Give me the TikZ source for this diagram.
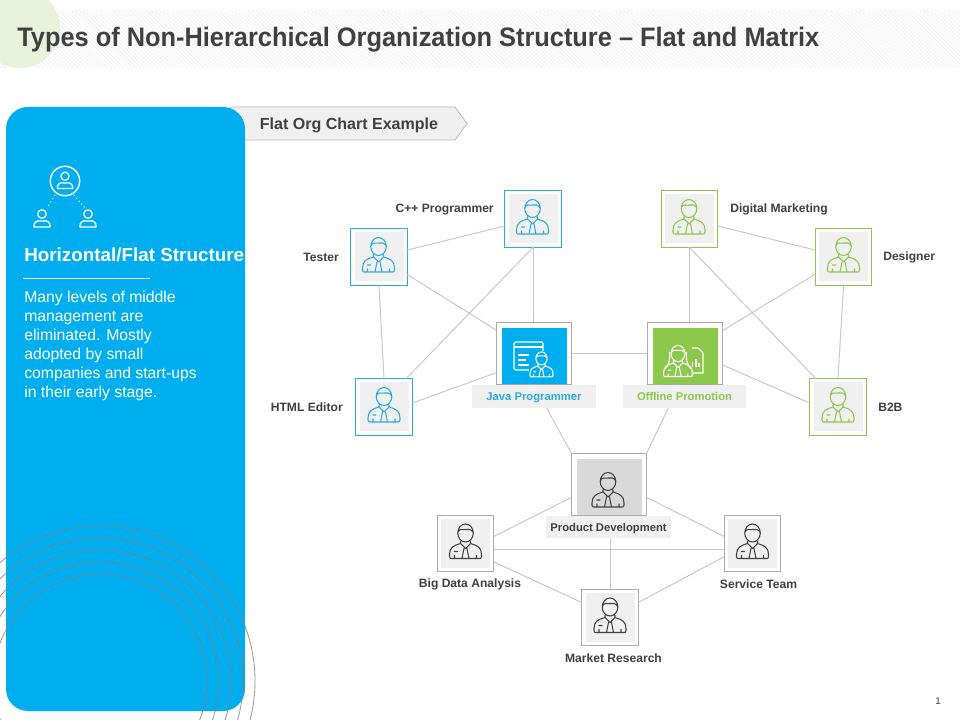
\documentclass[tikz,border=0pt]{standalone}
\usepackage{fontspec}
\setmainfont{Liberation Sans}
\newfontfamily\titlefont[FakeStretch=0.95]{Liberation Sans}
\usetikzlibrary{patterns}
\definecolor{panelblue}{HTML}{00AEEF}
\definecolor{iconblue}{HTML}{29ABE2}
\definecolor{leafgreen}{HTML}{8CC84B}
\definecolor{softgreen}{HTML}{E9F3DC}
\definecolor{boxgray}{HTML}{ABABAB}
\definecolor{linegray}{HTML}{C8C8C8}
\definecolor{innergray}{HTML}{F0F0F0}
\definecolor{darkgray}{HTML}{D9D9D9}
\definecolor{inkgray}{HTML}{404040}
\tikzset{
  smallbox/.style={draw=#1, line width=0.8pt, fill=white, minimum size=1.42cm, inner sep=0pt, outer sep=0pt,
    path picture={\fill[innergray] ([shift={(-24.5,-24.5)}]path picture bounding box.center) rectangle ++(49,49);}},
  bigbox/.style={draw=boxgray, line width=0.8pt, fill=white, minimum width=1.88cm, minimum height=1.56cm, inner sep=0pt, outer sep=0pt,
    path picture={\fill[#1] ([shift={(-32.5,-25.5)}]path picture bounding box.center) rectangle ++(65,57);}},
  tag/.style={fill=innergray, text height=5.8pt, text depth=0pt, inner sep=3pt, font=\bfseries\fontsize{8}{10}\selectfont},
  namelabel/.style={text=inkgray, inner sep=0pt, font=\bfseries\fontsize{8.6}{10}\selectfont},
  link/.style={draw=linegray, line width=0.7pt},
  pics/person/.style={code={
    \draw[#1, line width=0.75pt, line join=round, line cap=round]
      (0,-10.5) ellipse (7.8 and 9)
      (-7.8,-11) .. controls (-6,-16) and (-2,-13) .. (0,-14) .. controls (3,-15) and (6,-14) .. (7.8,-11)
      (-5,-2) -- (-5,0) .. controls (-12,2) and (-16,4) .. (-16,11) -- (-16,13) .. controls (-16,15) and (-15,15) .. (-14,15)
      -- (14,15) .. controls (15,15) and (16,15) .. (16,13) -- (16,11) .. controls (16,4) and (12,2) .. (5,0) -- (5,-2)
      (-5,0) -- (0,5) -- (5,0)
      (-1.5,5) -- (-3.5,15) (1.5,5) -- (3.5,15)
      (-11,8) -- (-8,8) (-11,15) -- (-11,12) (11,15) -- (11,12);
  }},
  pics/miniperson/.style={code={
    \draw[white, line width=0.9pt, line join=round]
      (0,-5) circle (4.3)
      (-8,8) -- (8,8) .. controls (9,3) and (4,1) .. (1.5,2) .. controls (0,2.5) and (0,2.5) .. (-1.5,2) .. controls (-4,1) and (-9,3) .. (-8,8) -- cycle;
  }}
}
\begin{document}
\begin{tikzpicture}[x=0.025cm, y=-0.025cm]
\useasboundingbox (0,0) rectangle (960,720);
\clip (0,0) rectangle (960,720);

\fill[white] (0,0) rectangle (960,720);
\fill[pattern={north west lines}, pattern color=black!7] (0,11) rectangle (960,68);
\fill[softgreen] (20,28) circle (40);
\node[anchor=west, text=inkgray, inner sep=0pt, font=\titlefont\bfseries\fontsize{19}{23}\selectfont] (title) at (17,39.5) {Types of Non-Hierarchical Organization Structure – Flat and Matrix};

\draw[boxgray!80, fill=innergray, line width=0.6pt] (230,107) -- (455,107) -- (467,123.5) -- (455,140) -- (230,140) -- cycle;
\node[text=inkgray, inner sep=0pt, font=\bfseries\fontsize{11.4}{13}\selectfont] (ribbon) at (349,125.5) {Flat Org Chart Example};

\fill[panelblue, rounded corners=0.55cm] (6,107) rectangle (245,711);
\draw[gray, opacity=0.8, line width=0.6pt] (100,681) circle (107) (100,681) circle (119) (100,681) circle (131) (100,681) circle (143) (100,681) circle (155);

\draw[white, line width=1pt] (65,181) circle (14.7);
\pic at (65,181) [scale=0.95] {miniperson};
\pic at (42,219) {miniperson};
\pic at (88,219) {miniperson};
\draw[white, dotted, line width=0.7pt] (55,195) -- (47,208) (74,195) -- (85,208);
\node[anchor=west, text=white, inner sep=0pt, font=\bfseries\fontsize{13.4}{15}\selectfont] (paneltitle) at (24,254.5) {Horizontal/Flat Structure};
\draw[white, line width=0.6pt] (23,278) -- (150,278);
\node[anchor=north west, text=white, inner sep=0pt, align=left, font=\fontsize{11.2}{13.6}\selectfont] (paneltext) at (24,290.5)
  {Many levels of middle\\management are\\eliminated. Mostly\\adopted by small\\companies and start-ups\\in their early stage.};

\node[smallbox=iconblue] (tester) at (379,257) {};
\node[smallbox=iconblue] (cpp) at (533,219) {};
\node[smallbox=iconblue] (html) at (384,407) {};
\node[smallbox=leafgreen] (digital) at (689.5,219) {};
\node[smallbox=leafgreen] (designer) at (843.5,257) {};
\node[smallbox=leafgreen] (btob) at (838,407) {};
\node[smallbox=boxgray] (bigdata) at (465.5,543.5) {};
\node[smallbox=boxgray] (service) at (752.5,543.5) {};
\node[smallbox=boxgray] (market) at (610,617.5) {};
\node[bigbox=panelblue] (java) at (534,353.5) {};
\node[bigbox=leafgreen] (offline) at (685,353.5) {};
\node[bigbox=darkgray] (product) at (609,484.5) {};

\draw[link] (tester) -- (cpp);
\draw[link] (tester.south) -- (html.north);
\draw[link] (tester) -- (java);
\draw[link] (cpp.south) -- (cpp.south |- java.north);
\draw[link] (cpp.south) -- (html.52);
\draw[link] (html.8) -- (java.207);
\draw[link] (java) -- (offline);
\draw[link] (java.south) -- (product.north west);
\draw[link] (offline.-100) -- (product.north east);
\draw[link] (digital) -- (designer);
\draw[link] (digital.south) -- (digital.south |- offline.north);
\draw[link] (digital.south) -- (btob.128);
\draw[link] (designer) -- (offline);
\draw[link] (designer.south) -- (btob.north);
\draw[link] (offline.-17) -- (btob.172);
\draw[link] (product.199) -- (bigdata.14);
\draw[link] (product.-19) -- (service.166);
\draw[link] (market.north) -- (market.north |- product.south);
\draw[link] (bigdata.-11) -- (service.191);
\draw[link] (bigdata.-33) -- (market.152);
\draw[link] (service.205) -- (market.28);

\pic at (378.5,257) {person=iconblue};
\pic at (532.5,219) {person=iconblue};
\pic at (384,407) {person=iconblue};
\pic at (689,219) {person=leafgreen};
\pic at (843.5,257) {person=leafgreen};
\pic at (838,407) {person=leafgreen};
\pic at (465.5,543.5) {person=inkgray};
\pic at (752.5,543.5) {person=inkgray};
\pic at (610,617.5) {person=inkgray};
\pic at (608,492) {person=inkgray};

% window and developer
\draw[white, line width=0.75pt, rounded corners=1pt] (514,342) rectangle (543,370);
\draw[white, line width=0.75pt] (514,347) -- (543,347) (518,355) -- (530,355) (518,360) -- (526,360) (518,365) -- (530,365);
\fill[panelblue] (529,351) rectangle (556,379);
\pic at (541.5,366) [scale=0.72] {person=white};

% document and woman
\draw[white, line width=0.75pt, fill=leafgreen] (685,348) -- (698,348) -- (703,353) -- (703,373) -- (685,373) -- cycle;
\draw[white, line width=0.75pt] (692,367) -- (692,362) (696,367) -- (696,359) (699,367) -- (699,363);
\fill[leafgreen] (664,342) rectangle (692,380);
\pic at (678,363) [scale=0.9] {person=white};
\draw[white, line width=0.75pt] (669.5,352) .. controls (670,362) and (668,366) .. (665,369) (686.5,352) .. controls (686,362) and (688,366) .. (691,369);

\node[tag, text=iconblue, minimum width=3.1cm, minimum height=0.57cm] (javatag) at (534,396.5) {Java Programmer};
\node[tag, text=leafgreen, minimum width=3.075cm, minimum height=0.57cm] (offlinetag) at (684.5,396.5) {Offline Promotion};
\node[tag, text=inkgray, minimum width=3.075cm, minimum height=0.57cm] (producttag) at (608.5,527) {Product Development};

\node[namelabel, anchor=east] (cpplabel) at (494,209.5) {C++ Programmer};
\node[namelabel, anchor=east] (testerlabel) at (339,257.5) {Tester};
\node[namelabel, anchor=east] (htmllabel) at (343,407.5) {HTML Editor};
\node[namelabel, anchor=west] (digitallabel) at (730,209) {Digital Marketing};
\node[namelabel, anchor=west] (designerlabel) at (883,257.5) {Designer};
\node[namelabel, anchor=west] (btoblabel) at (878,407.5) {B2B};
\node[namelabel] (bigdatalabel) at (470,584) {Big Data Analysis};
\node[namelabel] (servicelabel) at (758.5,584) {Service Team};
\node[namelabel] (marketlabel) at (613.5,658) {Market Research};

\node[text=inkgray, inner sep=0pt, font=\fontsize{7}{8}\selectfont] (pagenum) at (938,701) {1};
\end{tikzpicture}
\end{document}
